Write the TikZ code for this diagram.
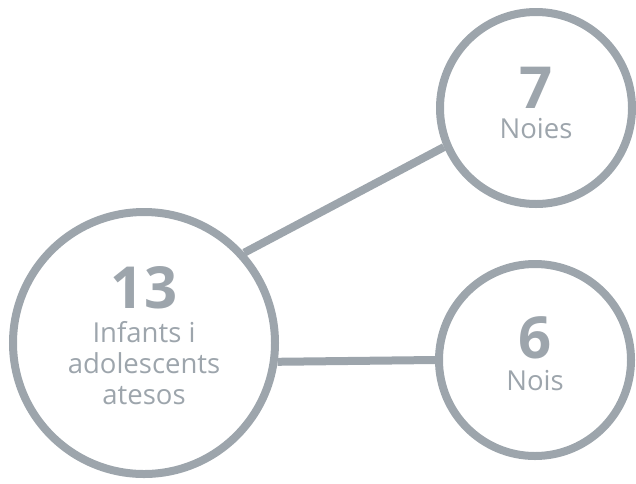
\documentclass[tikz,border=0pt]{standalone}
\usepackage{fontspec}
\setmainfont{Open Sans}
\definecolor{ringgray}{HTML}{9DA5AC}
\tikzset{
  ring/.style={circle, draw=ringgray, line width=8pt, inner sep=0pt},
  link/.style={draw=ringgray, line width=8pt},
  bignum/.style={text=ringgray, font=\fontsize{58}{58}\selectfont\bfseries, anchor=base},
  caption/.style={text=ringgray, font=\fontsize{27.5}{31}\selectfont, anchor=base, align=center}
}
\begin{document}
\begin{tikzpicture}[x=1pt, y=-1pt]
    \useasboundingbox (0,0) rectangle (636,483);
    % Three circles
    \node[ring, minimum size=262pt] (total) at (144,343) {};
    \node[ring, minimum size=192pt] (noies) at (536,108) {};
    \node[ring, minimum size=192pt] (nois) at (535,360) {};
    % Connectors
    \draw[link] (total.42) -- (noies.203);
    \draw[link] (total.-8) -- (nois.180);
    % Labels
    \node[bignum] (n13) at (144,308) {13};
    \node[caption, anchor=north] (t13) at (144,318) {Infants i\\adolescents\\atesos};
    \node[bignum] (n7) at (536,108) {7};
    \node[caption] (t7) at (536,138) {Noies};
    \node[bignum] (n6) at (535,358) {6};
    \node[caption] (t6) at (535,390) {Nois};
\end{tikzpicture}
\end{document}
